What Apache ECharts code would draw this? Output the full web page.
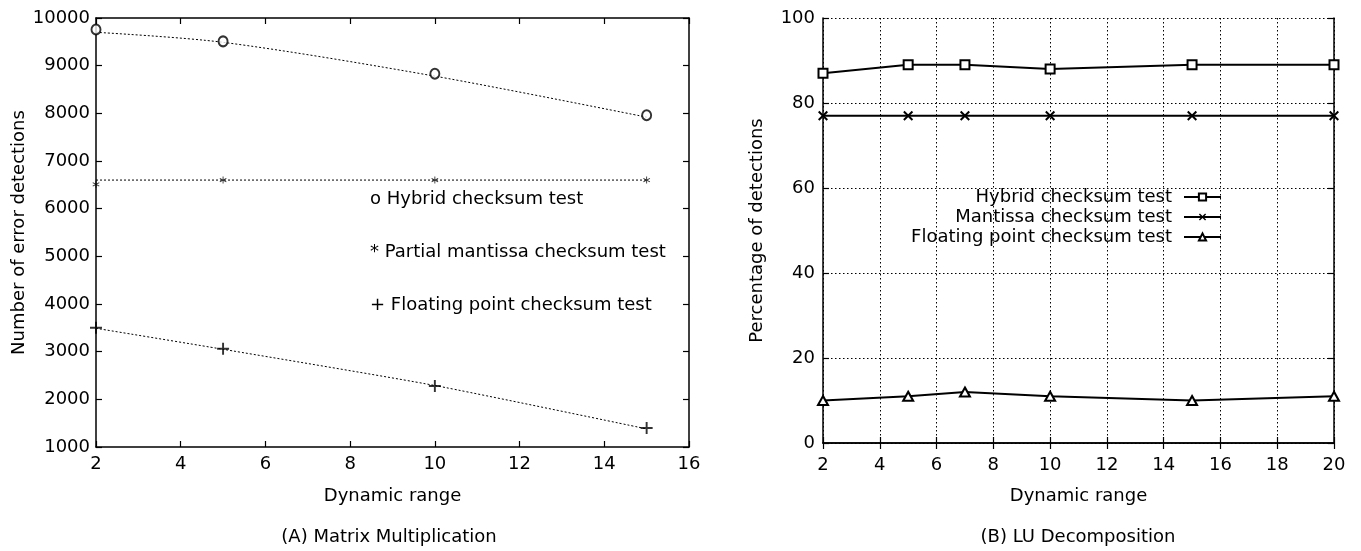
<!DOCTYPE html>
<html>
<head>
<meta charset="utf-8">
<script src="https://cdn.jsdelivr.net/npm/echarts@6/dist/echarts.min.js"></script>
<style>
html,body{margin:0;padding:0;background:#fff;}
#chart{width:1361px;height:551px;}
</style>
</head>
<body>
<div id="chart"></div>
<script>
// ---- Data (A) Matrix Multiplication ----
const dynLeft = [2, 5, 10, 15];
const hybridCount = [9760, 9510, 8830, 7960];
const hybridFit = [9700, 9490, 8780, 7920];
const partialCount = [6510, 6600, 6600, 6600];
const partialFit = [6600, 6600, 6600, 6600];
const floatCount = [3500, 3060, 2280, 1400];
const floatFit = [3490, 3050, 2290, 1380];
const leftNames = ['o Hybrid checksum test', '* Partial mantissa checksum test', '+ Floating point checksum test'];

// ---- Data (B) LU Decomposition ----
const dynRight = [2, 5, 7, 10, 15, 20];
const hybridPct = [87, 89, 89, 88, 89, 89];
const mantissaPct = [77, 77, 77, 77, 77, 77];
const floatPct = [10, 11, 12, 11, 10, 11];
const rightNames = ['Hybrid checksum test', 'Mantissa checksum test', 'Floating point checksum test'];

const captions = ['(A) Matrix Multiplication', '(B) LU Decomposition'];
const xTitle = 'Dynamic range';
const yTitles = ['Number of error detections', 'Percentage of detections'];

const FONT = 'DejaVu Sans';
const FS = 18;
const pairs = (xs, ys) => xs.map((x, i) => [x, ys[i]]);

const starPath = 'path://M4.4,0H5.6V10H4.4Z M0.97,1.98L9.63,6.98L9.03,8.02L0.37,3.02Z M0.37,6.98L9.03,1.98L9.63,3.02L0.97,8.02Z';
const plusPath = 'path://M4.2,0H5.8V4.2H10V5.8H5.8V10H4.2V5.8H0V4.2H4.2Z';
const crossPath = 'path://M1.4,0L10,8.6L8.6,10L0,1.4Z M8.6,0L10,1.4L1.4,10L0,8.6Z';

const axisLine = {show: true, lineStyle: {color: '#000', width: 1.5}};
const tickIn = {show: true, inside: true, length: 6, lineStyle: {color: '#000', width: 1.2}};
const plain = (v) => String(v);
const labelStyle = (m) => ({color: '#000', fontFamily: FONT, fontSize: FS, margin: m, formatter: plain});
const nameStyle = {color: '#000', fontFamily: FONT, fontSize: FS};
const dotted = {show: true, lineStyle: {color: '#000', width: 1, type: [1.5, 2.5]}};

const chart = echarts.init(document.getElementById('chart'), null, {renderer: 'canvas'});

const option = {
  animation: false,
  backgroundColor: '#fff',
  textStyle: {fontFamily: FONT},
  grid: [
    {left: 96, top: 18, right: 672, bottom: 104, containLabel: false},
    {left: 823, top: 18, right: 27, bottom: 108, containLabel: false}
  ],
  xAxis: [
    {type: 'value', gridIndex: 0, min: 2, max: 16, interval: 2, position: 'bottom',
     axisLine: axisLine, axisTick: tickIn, axisLabel: labelStyle(8), splitLine: {show: false},
     name: xTitle, nameLocation: 'middle', nameGap: 40, nameTextStyle: nameStyle},
    {type: 'value', gridIndex: 0, min: 2, max: 16, interval: 2, position: 'top',
     axisLine: axisLine, axisTick: tickIn, axisLabel: {show: false}, splitLine: {show: false}},
    {type: 'value', gridIndex: 1, min: 2, max: 20, interval: 2, position: 'bottom',
     axisLine: axisLine, axisTick: tickIn, axisLabel: labelStyle(13), splitLine: dotted,
     name: xTitle, nameLocation: 'middle', nameGap: 44, nameTextStyle: nameStyle},
    {type: 'value', gridIndex: 1, min: 2, max: 20, interval: 2, position: 'top',
     axisLine: axisLine, axisTick: tickIn, axisLabel: {show: false}, splitLine: {show: false}}
  ],
  yAxis: [
    {type: 'value', gridIndex: 0, min: 1000, max: 10000, interval: 1000, position: 'left',
     axisLine: axisLine, axisTick: tickIn, axisLabel: labelStyle(6), splitLine: {show: false},
     name: yTitles[0], nameLocation: 'middle', nameGap: 68, nameTextStyle: nameStyle},
    {type: 'value', gridIndex: 0, min: 1000, max: 10000, interval: 1000, position: 'right',
     axisLine: axisLine, axisTick: tickIn, axisLabel: {show: false}, splitLine: {show: false}},
    {type: 'value', gridIndex: 1, min: 0, max: 100, interval: 20, position: 'left',
     axisLine: axisLine, axisTick: tickIn, axisLabel: labelStyle(8), splitLine: dotted,
     name: yTitles[1], nameLocation: 'middle', nameGap: 57, nameTextStyle: nameStyle},
    {type: 'value', gridIndex: 1, min: 0, max: 100, interval: 20, position: 'right',
     axisLine: axisLine, axisTick: tickIn, axisLabel: {show: false}, splitLine: {show: false}}
  ],
  legend: [
    {data: leftNames, orient: 'vertical', left: 364, top: 189, padding: 0,
     itemWidth: 0, itemHeight: 0, itemGap: 33, icon: 'rect', selectedMode: false,
     textStyle: {color: '#000', fontFamily: FONT, fontSize: FS, lineHeight: 20}},
    {data: rightNames, orient: 'vertical', right: 139, top: 187, padding: 0, align: 'right',
     itemWidth: 37, itemHeight: 9, itemGap: 0, selectedMode: false,
     textStyle: {color: '#000', fontFamily: FONT, fontSize: FS, lineHeight: 20, padding: [0, 7, 0, 0]}}
  ],
  series: [
    // left: fit lines
    {type: 'line', xAxisIndex: 0, yAxisIndex: 0, data: pairs(dynLeft, hybridFit), smooth: 0.3,
     symbol: 'none', lineStyle: {color: '#000', width: 1, type: [2, 2]}, z: 2, silent: true},
    {type: 'line', xAxisIndex: 0, yAxisIndex: 0, data: pairs(dynLeft, partialFit),
     symbol: 'none', lineStyle: {color: '#000', width: 1, type: [2, 2]}, z: 2, silent: true},
    {type: 'line', xAxisIndex: 0, yAxisIndex: 0, data: pairs(dynLeft, floatFit), smooth: 0.2,
     symbol: 'none', lineStyle: {color: '#000', width: 1, type: [2, 2]}, z: 2, silent: true},
    // left: markers
    {name: leftNames[0], type: 'scatter', xAxisIndex: 0, yAxisIndex: 0, data: pairs(dynLeft, hybridCount),
     symbol: 'emptyCircle', symbolSize: [9, 10], itemStyle: {color: '#000', borderColor: '#000', borderWidth: 1.8}, z: 3, clip: false},
    {name: leftNames[1], type: 'scatter', xAxisIndex: 0, yAxisIndex: 0, data: pairs(dynLeft, partialCount),
     symbol: starPath, symbolSize: 7, itemStyle: {color: '#000'}, z: 3, clip: false},
    {name: leftNames[2], type: 'scatter', xAxisIndex: 0, yAxisIndex: 0, data: pairs(dynLeft, floatCount),
     symbol: plusPath, symbolSize: 12, itemStyle: {color: '#000'}, z: 3, clip: false},
    // right
    {name: rightNames[0], type: 'line', xAxisIndex: 2, yAxisIndex: 2, data: pairs(dynRight, hybridPct),
     symbol: 'emptyRect', symbolSize: 9, showAllSymbol: true, clip: false,
     lineStyle: {color: '#000', width: 1.8}, itemStyle: {color: '#000', borderColor: '#000', borderWidth: 1.8}, z: 3},
    {name: rightNames[1], type: 'line', xAxisIndex: 2, yAxisIndex: 2, data: pairs(dynRight, mantissaPct),
     symbol: crossPath, symbolSize: 10, showAllSymbol: true, clip: false,
     lineStyle: {color: '#000', width: 1.8}, itemStyle: {color: '#000'}, z: 3},
    {name: rightNames[2], type: 'line', xAxisIndex: 2, yAxisIndex: 2, data: pairs(dynRight, floatPct),
     symbol: 'emptyTriangle', symbolSize: [10, 9], showAllSymbol: true, clip: false,
     lineStyle: {color: '#000', width: 1.8}, itemStyle: {color: '#000', borderColor: '#000', borderWidth: 1.8}, z: 3}
  ],
  graphic: [
    {type: 'text', x: 389, y: 537, style: {text: captions[0], fill: '#000', font: FS + 'px "' + FONT + '"', textAlign: 'center', textVerticalAlign: 'middle'}},
    {type: 'text', x: 1078, y: 537, style: {text: captions[1], fill: '#000', font: FS + 'px "' + FONT + '"', textAlign: 'center', textVerticalAlign: 'middle'}}
  ]
};
chart.setOption(option);
</script>
</body>
</html>
